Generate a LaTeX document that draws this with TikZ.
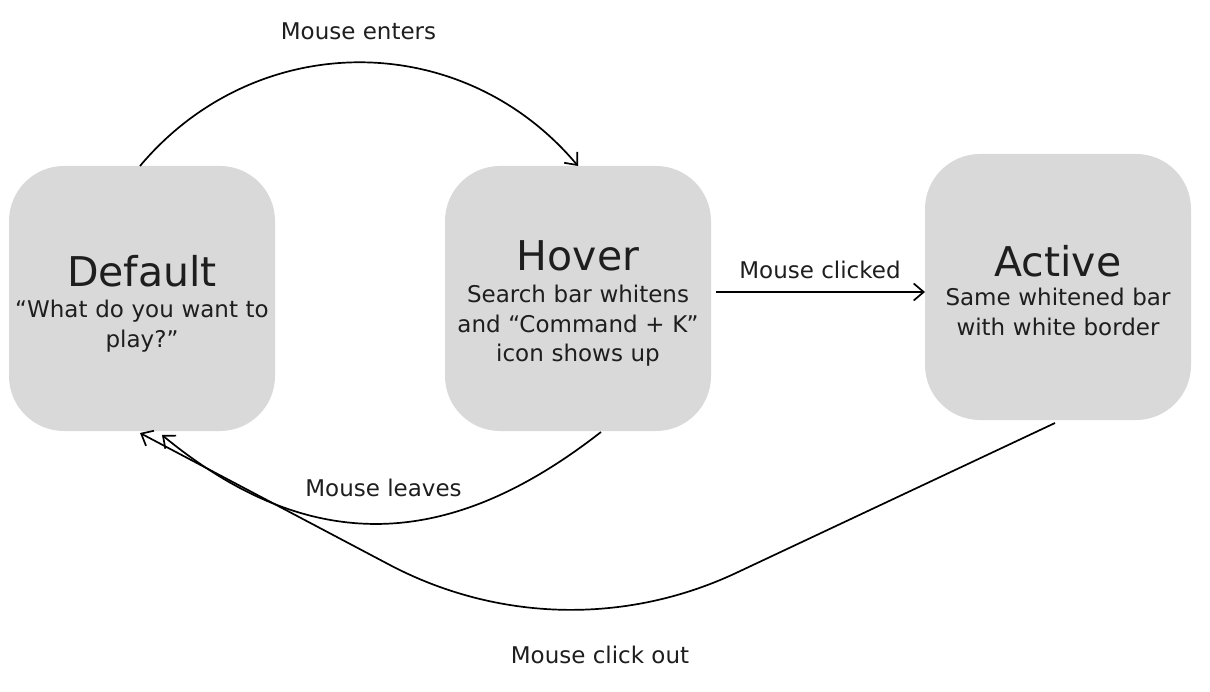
\documentclass[tikz,border=0pt]{standalone}
\usepackage{fontspec}
\setmainfont{DejaVu Sans}
\usetikzlibrary{arrows.meta}
\definecolor{boxgray}{HTML}{D9D9D9}
\definecolor{ink}{HTML}{1E1E1E}
\begin{document}
\begin{tikzpicture}[x=1pt,y=-1pt,
  state/.style={fill=boxgray, rounded corners=55pt, minimum width=266pt, minimum height=265pt, inner sep=0pt, outer sep=0pt},
  titletext/.style={anchor=base, text=ink, font=\fontsize{41}{49}\selectfont, inner sep=0pt},
  subtext/.style={anchor=base, text=ink, font=\fontsize{23}{29.5}\selectfont, inner sep=0pt, text width=300pt, align=center},
  lbl/.style={anchor=base, text=ink, font=\fontsize{23}{28}\selectfont, inner sep=0pt},
  conn/.style={line width=1.7pt, draw=black, -{Straight Barb[length=10pt,width=17pt]}},
]
\useasboundingbox (0,0) rectangle (1210,692);

% state boxes
\node[state] (default) at (142,298.5) {};
\node[state] (hover) at (578,298.5) {};
\node[state, minimum height=266pt] (active) at (1058,287) {};

% texts inside boxes
\node[titletext] (defaultT) at (142,287) {Default};
\node[subtext] (defaultS) at (142,318) {“What do you want to\\play?”};
\node[titletext] (hoverT) at (578,271) {Hover};
\node[subtext] (hoverS) at (578,303) {Search bar whitens\\and “Command + K”\\icon shows up};
\node[titletext] (activeT) at (1058,277) {Active};
\node[subtext] (activeS) at (1058,306) {Same whitened bar\\with white border};

% labels
\node[lbl] (lenter) at (358.5,40) {Mouse enters};
\node[lbl] (lclick) at (820,279) {Mouse clicked};
\node[lbl] (lleave) at (383.5,496) {Mouse leaves};
\node[lbl] (lout) at (600,663) {Mouse click out};

% connectors
\draw[conn] ([xshift=-2pt]default.north) .. controls +(116,-138) and +(-116,-138) .. (hover.north);
\draw[conn] ([xshift=5pt,yshift=6.5pt]hover.east) -- ([yshift=-5pt]active.west);
\draw[conn] ([xshift=23pt,yshift=-1pt]hover.south) .. controls +(-141,110) and +(158,130) .. ([xshift=20pt,yshift=-4pt]default.south);
\coordinate (t1) at (736,573);
\coordinate (t2) at (388,564);
\draw[conn] ([xshift=-3pt,yshift=-3pt]active.south) -- (t1) .. controls (625,625) and (497,622) .. (t2) -- ([xshift=-2pt,yshift=-2pt]default.south);
\end{tikzpicture}
\end{document}
